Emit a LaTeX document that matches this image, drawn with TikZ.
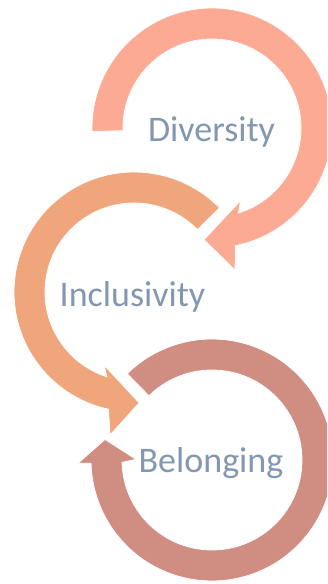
\documentclass[tikz,border=0pt]{standalone}
\usepackage{fontspec}
\setmainfont{Carlito}
\begin{document}
\begin{tikzpicture}[x=1pt,y=1pt]
\definecolor{divc}{HTML}{FDAA94}
\definecolor{incc}{HTML}{F0A67C}
\definecolor{belc}{HTML}{D08E82}
\definecolor{lblc}{HTML}{8497B0}
\tikzset{
  ringarrow/.style={draw=white, line width=0.8pt, line join=miter},
  lbl/.style={text=lblc, font=\fontsize{36}{43}\selectfont, anchor=base, inner sep=0pt}
}
\useasboundingbox (0,0) rectangle (327,584);
\clip (0,0) rectangle (327,584);

% Belonging
\begin{scope}[shift={(212,124)}]
\filldraw[ringarrow, fill=belc] (134.5:121) arc[start angle=134.5, end angle=-178.5, radius=121]
  -- (-178.6:134) -- (-190.9:109) -- (-180.5:76) -- (-178.5:90)
  arc[start angle=-178.5, end angle=134.5, radius=90] -- cycle;
\end{scope}

% Inclusivity
\begin{scope}[shift={(134,292)}]
\filldraw[ringarrow, fill=incc] (44.5:120) arc[start angle=44.5, end angle=257.7, radius=120]
  -- (260.5:145) -- (272.7:111) -- (247.7:79) -- (252.3:89)
  arc[start angle=252.3, end angle=44.5, radius=89] -- cycle;
\end{scope}

% Diversity
\begin{scope}[shift={(212,456)}]
\filldraw[ringarrow, fill=divc] (181.7:120) arc[start angle=181.7, end angle=-78.7, radius=120]
  -- (-80.8:144) -- (-94.1:112) -- (-68.5:78) -- (-72.7:89)
  arc[start angle=-72.7, end angle=181.7, radius=89] -- cycle;
\end{scope}

\node[lbl] (div) at (211.5,442) {Diversity};
\node[lbl] (inc) at (132.5,277) {Inclusivity};
\node[lbl] (bel) at (211,111) {Belonging};
\end{tikzpicture}
\end{document}
